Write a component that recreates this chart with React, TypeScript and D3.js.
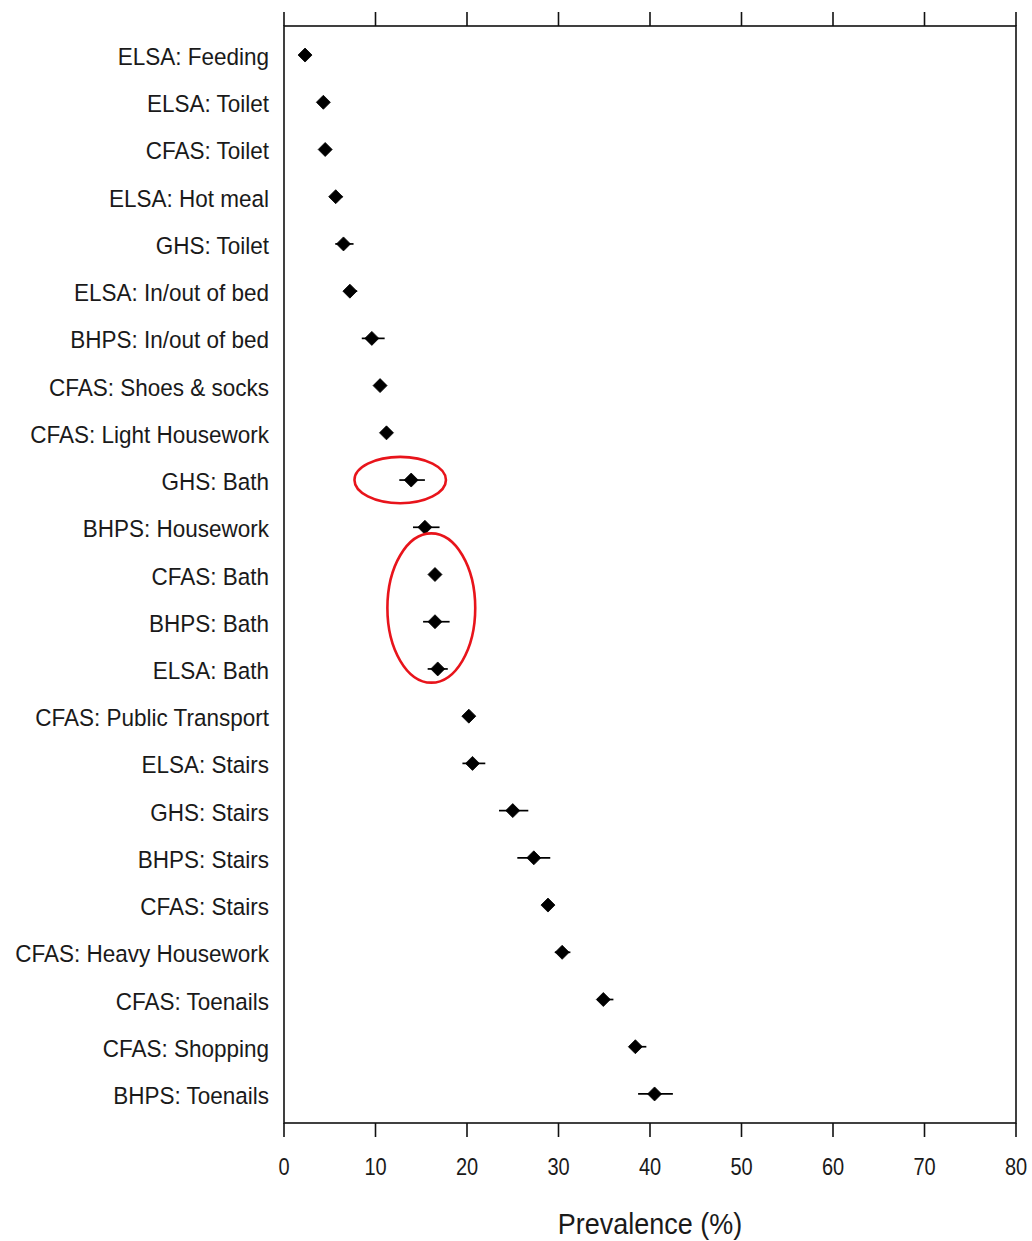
import React from 'react';
import * as d3 from 'd3';

// rows, top to bottom
const labels = [
  'ELSA: Feeding', 'ELSA: Toilet', 'CFAS: Toilet', 'ELSA: Hot meal', 'GHS: Toilet',
  'ELSA: In/out of bed', 'BHPS: In/out of bed', 'CFAS: Shoes & socks', 'CFAS: Light Housework',
  'GHS: Bath', 'BHPS: Housework', 'CFAS: Bath', 'BHPS: Bath', 'ELSA: Bath',
  'CFAS: Public Transport', 'ELSA: Stairs', 'GHS: Stairs', 'BHPS: Stairs', 'CFAS: Stairs',
  'CFAS: Heavy Housework', 'CFAS: Toenails', 'CFAS: Shopping', 'BHPS: Toenails',
];
const estimate = [2.3, 4.3, 4.5, 5.65, 6.5, 7.2, 9.6, 10.5, 11.2, 13.9, 15.4, 16.5, 16.5, 16.8, 20.2, 20.6, 25.0, 27.3, 28.85, 30.4, 34.9, 38.4, 40.5];
const lower = [2.0, 3.9, 4.1, 5.0, 5.6, 6.6, 8.5, 10.1, 10.8, 12.6, 14.1, 16.0, 15.2, 15.7, 19.8, 19.5, 23.5, 25.5, 28.4, 29.6, 34.2, 37.7, 38.7];
const upper = [2.6, 4.7, 4.9, 6.4, 7.6, 8.0, 11.0, 10.9, 11.6, 15.4, 17.0, 17.1, 18.1, 17.9, 20.7, 22.0, 26.7, 29.1, 29.3, 31.3, 36.0, 39.6, 42.5];
const xTicks = [0, 10, 20, 30, 40, 50, 60, 70, 80];

// red highlight rings: centre row index (fractional), centre value, radii in value units / rows
const ringRow = [9, 11.71];
const ringValue = [12.7, 16.1];
const ringValueRadius = [5.0, 4.8];
const ringRowRadius = [0.49, 1.58];

const W = 1032;
const H = 1241;
const left = 284, right = 1016, top = 26, bottom = 1123;

export default function App() {
  const x = d3.scaleLinear().domain([0, 80]).range([left, right]);
  const y = d3.scalePoint<string>().domain(labels).range([top, bottom]).padding(0.615);
  const step = y.step();
  const rowY = (i: number) => (y(labels[0]) as number) + i * step;
  const half = 7;
  const diamond = (cx: number, cy: number) =>
    `M${cx},${cy - half}L${cx + half},${cy}L${cx},${cy + half}L${cx - half},${cy}Z`;
  const font = 'Liberation Sans, Arial, sans-serif';

  return (
    <svg width={W} height={H} style={{ position: 'absolute', left: 0, top: 0, background: '#fff' }}>
      <rect x={left} y={top} width={right - left} height={bottom - top} fill="none" stroke="#111" strokeWidth={1.6} />
      {xTicks.map(t => (
        <g key={t}>
          <line x1={x(t)} x2={x(t)} y1={bottom} y2={bottom + 14} stroke="#111" strokeWidth={1.6} />
          <line x1={x(t)} x2={x(t)} y1={top} y2={top - 14} stroke="#111" strokeWidth={1.6} />
          <text transform={`translate(${x(t)},1175) scale(1,1.15)`} textAnchor="middle" fontFamily={font} fontSize={20} fill="#1a1a1a">{t}</text>
        </g>
      ))}
      <text transform={`translate(${(left + right) / 2},1234) scale(1,1.12)`} textAnchor="middle" fontFamily={font} fontSize={27} fill="#1a1a1a">Prevalence (%)</text>
      {labels.map((l, i) => (
        <g key={l}>
          <text transform={`translate(269,${(y(l) as number) + 10}) scale(1,1.08)`} textAnchor="end" fontFamily={font} fontSize={22.5} fill="#1a1a1a">{l}</text>
          <line x1={x(lower[i])} x2={x(upper[i])} y1={y(l)} y2={y(l)} stroke="#000" strokeWidth={1.7} />
          <path d={diamond(x(estimate[i]), y(l) as number)} fill="#000" stroke="#000" strokeWidth={0.8} strokeLinejoin="round" />
        </g>
      ))}
      {ringRow.map((r, i) => (
        <ellipse key={i} cx={x(ringValue[i])} cy={rowY(r)}
          rx={x(ringValueRadius[i]) - x(0)} ry={ringRowRadius[i] * step}
          fill="none" stroke="#e8141b" strokeWidth={2.6} />
      ))}
    </svg>
  );
}
